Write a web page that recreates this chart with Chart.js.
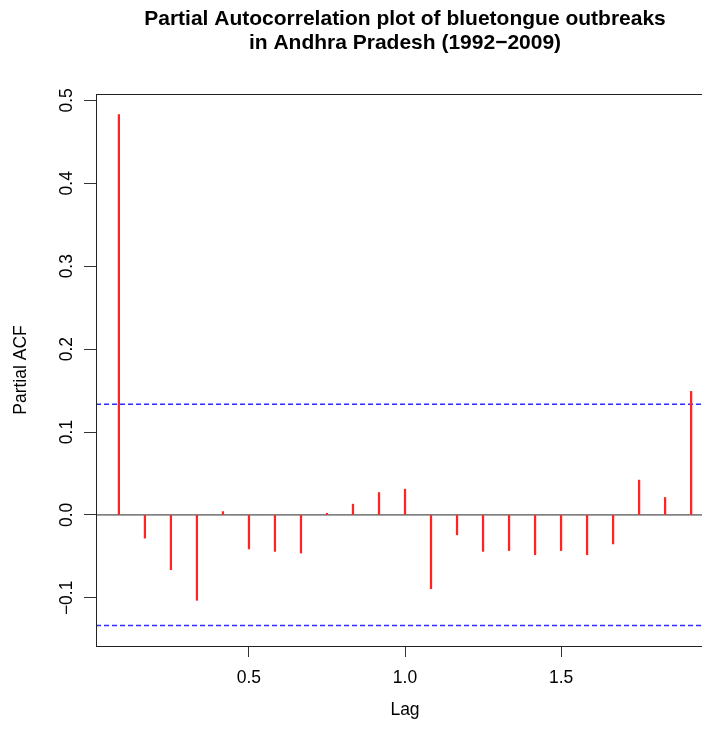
<!DOCTYPE html>
<html>
<head>
<meta charset="utf-8">
<script src="https://cdn.jsdelivr.net/npm/chart.js@4.4.1/dist/chart.umd.min.js"></script>
<style>
html,body{margin:0;padding:0;background:#fff;overflow:hidden;width:702px;height:733px}
#wrap{position:relative;width:720px;height:733px}
</style>
</head>
<body>
<div id="wrap"><canvas id="c"></canvas></div>
<script>
// ---- data ----
const lags = [0.0833, 0.1667, 0.25, 0.3333, 0.4167, 0.5, 0.5833, 0.6667, 0.75, 0.8333, 0.9167, 1.0,
              1.0833, 1.1667, 1.25, 1.3333, 1.4167, 1.5, 1.5833, 1.6667, 1.75, 1.8333, 1.9167];
const pacf = [0.483, -0.028, -0.066, -0.103, 0.004, -0.041, -0.044, -0.046, 0.002, 0.013, 0.027, 0.031,
              -0.089, -0.024, -0.044, -0.043, -0.048, -0.043, -0.048, -0.035, 0.042, 0.021, 0.149];
const ciUpper = 0.1334;
const ciLower = -0.1334;
const xTicks = [0.5, 1.0, 1.5];
const yTicks = [-0.1, 0.0, 0.1, 0.2, 0.3, 0.4, 0.5];
const xRange = [0.01, 1.99];
const yRange = [-0.1581, 0.5077];
const titleLines = ['Partial Autocorrelation plot of bluetongue outbreaks', 'in Andhra Pradesh (1992\u22122009)'];
const xLabel = 'Lag';
const yLabel = 'Partial ACF';

const FONT = "'Liberation Sans', Arial, Helvetica, sans-serif";
Chart.defaults.font.family = FONT;
Chart.defaults.color = '#000';

const boxPlugin = {
  id: 'box',
  afterDraw(chart) {
    const a = chart.chartArea, c = chart.ctx;
    c.save();
    c.strokeStyle = '#222';
    c.lineWidth = 1;
    c.strokeRect(Math.round(a.left) + 0.5, Math.round(a.top) + 0.5,
                 Math.round(a.right - a.left), Math.round(a.bottom - a.top));
    c.restore();
  }
};

const fmtY = v => (v < -1e-9 ? '\u2212' : '') + Math.abs(v).toFixed(1);
const hline = (y, color, width, dash) => ({
  type: 'line', data: xRange.map(x => ({ x: x, y: y })),
  borderColor: color, backgroundColor: color, borderWidth: width, borderDash: dash,
  pointRadius: 0, fill: false, tension: 0
});

new Chart(document.getElementById('c'), {
  type: 'bar',
  data: {
    datasets: [
      { type: 'bar', data: lags.map((x, i) => ({ x: x, y: pacf[i] })),
        backgroundColor: 'rgb(255,35,35)', borderWidth: 0, barThickness: 1.6 },
      hline(0, 'rgb(40,40,40)', 1, []),
      hline(ciUpper, 'rgb(45,45,255)', 1.4, [5, 3]),
      hline(ciLower, 'rgb(45,45,255)', 1.4, [5, 3])
    ]
  },
  options: {
    responsive: true,
    maintainAspectRatio: false,
    animation: false,
    devicePixelRatio: 1,
    layout: { padding: { left: 0, right: 6, top: 0, bottom: 0 } },
    plugins: {
      legend: { display: false },
      tooltip: { enabled: false },
      title: {
        display: true, text: titleLines, fullSize: false, color: '#000',
        font: { size: 21, weight: 'bold', lineHeight: '24px' },
        padding: { top: 7.7, bottom: 38.3 }
      }
    },
    scales: {
      x: {
        type: 'linear', min: xRange[0], max: xRange[1], offset: false,
        afterBuildTicks: s => { s.ticks = xTicks.map(v => ({ value: v })); },
        afterFit: s => { s.height = 87; },
        ticks: { font: { size: 17.5 }, padding: 10.5, maxRotation: 0, minRotation: 0, autoSkip: false,
                 callback: v => Number(v).toFixed(1) },
        grid: { display: true, drawOnChartArea: false, drawTicks: true, tickLength: 11, color: '#333', offset: false },
        border: { display: false },
        title: { display: true, text: xLabel, font: { size: 17.5, lineHeight: '20px' }, padding: { top: 0, bottom: 13 } }
      },
      y: {
        type: 'linear', min: yRange[0], max: yRange[1],
        afterBuildTicks: s => { s.ticks = yTicks.map(v => ({ value: v })); },
        afterFit: s => { s.width = 96; },
        ticks: { font: { size: 17.5 }, padding: 0, minRotation: 90, maxRotation: 90, crossAlign: 'center',
                 autoSkip: false, callback: v => fmtY(Number(v)) },
        grid: { display: true, drawOnChartArea: false, drawTicks: true, tickLength: 12, color: '#333' },
        border: { display: false },
        title: { display: true, text: yLabel, font: { size: 17.5, lineHeight: '20px' }, padding: { top: 11, bottom: 0 } }
      }
    }
  },
  plugins: [boxPlugin]
});
</script>
</body>
</html>
